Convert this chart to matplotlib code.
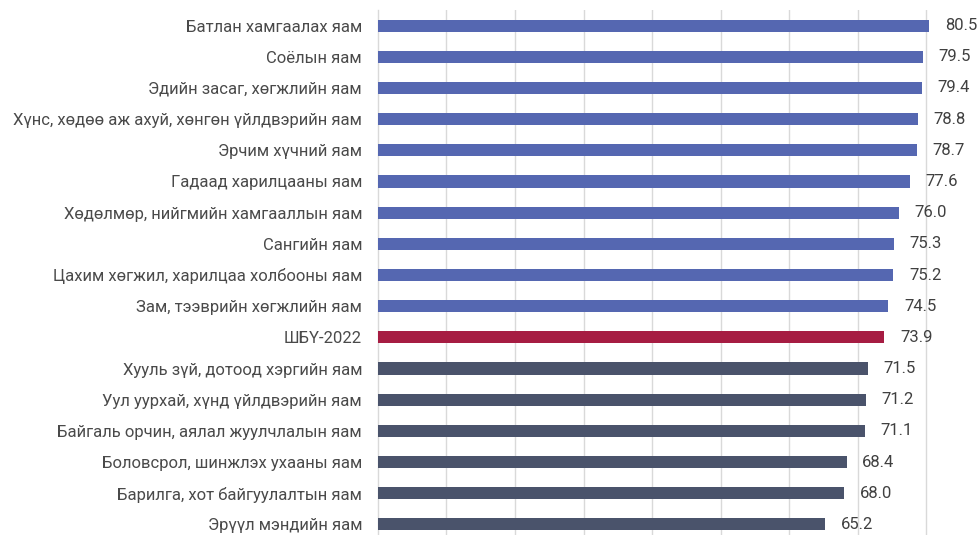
import matplotlib.pyplot as plt

plt.rcParams['font.family'] = ['Roboto', 'DejaVu Sans']

categories = [
    "Батлан хамгаалах яам",
    "Соёлын яам",
    "Эдийн засаг, хөгжлийн яам",
    "Хүнс, хөдөө аж ахуй, хөнгөн үйлдвэрийн яам",
    "Эрчим хүчний яам",
    "Гадаад харилцааны яам",
    "Хөдөлмөр, нийгмийн хамгааллын яам",
    "Сангийн яам",
    "Цахим хөгжил, харилцаа холбооны яам",
    "Зам, тээврийн хөгжлийн яам",
    "ШБҮ-2022",
    "Хууль зүй, дотоод хэргийн яам",
    "Уул уурхай, хүнд үйлдвэрийн яам",
    "Байгаль орчин, аялал жуулчлалын яам",
    "Боловсрол, шинжлэх ухааны яам",
    "Барилга, хот байгуулалтын яам",
    "Эрүүл мэндийн яам",
]
values = [80.5, 79.5, 79.4, 78.8, 78.7, 77.6, 76.0, 75.3, 75.2, 74.5,
          73.9, 71.5, 71.2, 71.1, 68.4, 68.0, 65.2]
groups = ["above"] * 10 + ["avg"] + ["below"] * 6
colors = {"above": "#5567B1", "avg": "#A61C42", "below": "#4A536B"}

fig = plt.figure(figsize=(9.79, 5.35), dpi=100)
ax = fig.add_axes([378 / 979, -5 / 535, 1 - 378 / 979, 530 / 535])

ypos = list(range(len(values)))
bars = ax.barh(ypos, values, height=0.39,
               color=[colors[g] for g in groups], zorder=3)
for y, v in zip(ypos, values):
    ax.text(v + 2.3, y, f"{v:.1f}", va="center", ha="left",
            fontsize=12, color="#404040")

ax.set_yticks(ypos)
ax.set_yticklabels(categories, fontsize=12, color="#4a4a4a")
ax.set_ylim(len(values) - 0.5, -0.5)
ax.set_xlim(0, (979 - 378) / 6.85)
ax.set_xticks(range(10, 90, 10))
ax.tick_params(axis="x", length=0, labelbottom=False)
ax.tick_params(axis="y", length=0, pad=11.5)
ax.grid(axis="x", color="#d9d9d9", linewidth=1, zorder=0)
for s in ["top", "right", "bottom"]:
    ax.spines[s].set_visible(False)
ax.spines["left"].set_color("#d9d9d9")
ax.spines["left"].set_linewidth(1)

fig.savefig("out.png", dpi=100)
